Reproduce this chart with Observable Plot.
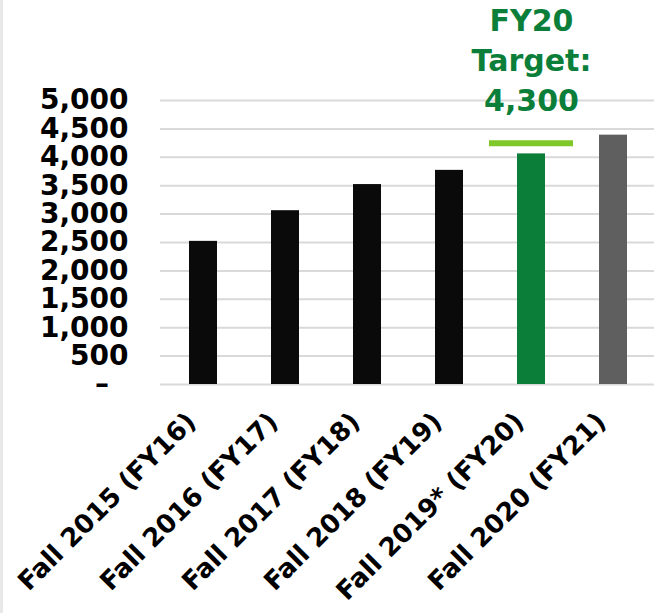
<!DOCTYPE html>
<html><head><meta charset="utf-8">
<script src="https://cdn.jsdelivr.net/npm/d3@7"></script>
<script src="https://cdn.jsdelivr.net/npm/@observablehq/plot@0.6"></script>
<style>
html,body{margin:0;padding:0;background:#fff;}
#chart{width:654px;height:613px;position:relative;overflow:hidden;}
#chart::before{content:"";position:absolute;left:0;top:0;bottom:0;width:3px;background:#e8e8e8;z-index:2;}
#chart svg{display:block;}
</style></head><body><div id="chart"></div>
<script>
const categories = ["Fall 2015 (FY16)", "Fall 2016 (FY17)", "Fall 2017 (FY18)", "Fall 2018 (FY19)", "Fall 2019* (FY20)", "Fall 2020 (FY21)"];
const enrollment = [2520, 3060, 3520, 3770, 4060, 4390];
const barStatus = ["actual", "actual", "actual", "actual", "current", "projected"];
const targetCategory = "Fall 2019* (FY20)";
const targetValue = 4300;
const targetLabel = "FY20\nTarget:\n4,300";
const yTicks = [0, 500, 1000, 1500, 2000, 2500, 3000, 3500, 4000, 4500, 5000];

const data = categories.map((c, i) => ({category: c, value: enrollment[i], status: barStatus[i]}));
const fmt = d3.format(",");

const plot = Plot.plot({
  width: 654, height: 613,
  marginTop: 100, marginBottom: 229, marginLeft: 160, marginRight: 0,
  style: {background: "#fff", fontFamily: "DejaVu Sans", overflow: "visible"},
  x: {domain: categories, range: [160, 657], paddingInner: 0.653, paddingOuter: 0.3265, label: null},
  y: {domain: [0, 5000], label: null},
  color: {domain: ["actual", "current", "projected"], range: ["#0a0a0a", "#0b7f3a", "#5f5f5f"]},
  marks: [
    Plot.ruleY(yTicks, {stroke: "#d9d9d9", strokeWidth: 2}),
    Plot.barY(data, {x: "category", y: "value", fill: "status"}),
    Plot.tickY([{category: targetCategory, value: targetValue}], {x: "category", y: "value", stroke: "#80c729", strokeWidth: 6, dy: 3, insetLeft: -28, insetRight: -28}),
    Plot.text([{category: targetCategory, label: targetLabel}], {x: "category", text: "label", frameAnchor: "top", lineAnchor: "bottom", dy: 10, lineHeight: 1.32, fill: "#0b7f3a", fontSize: 30, fontWeight: "bold"}),
    Plot.axisY({ticks: yTicks, tickFormat: d => d === 0 ? "–\u2007" : fmt(d), tickSize: 0, tickPadding: 32, fontSize: 28, fontWeight: "bold", fill: "#000", label: null}),
    Plot.axisX({tickRotate: -45, tickSize: 0, tickPadding: 3, dx: -12, dy: 30, fontSize: 26, fontWeight: "bold", fill: "#000", label: null})
  ]
});
document.getElementById("chart").appendChild(plot);
</script>
</body></html>
